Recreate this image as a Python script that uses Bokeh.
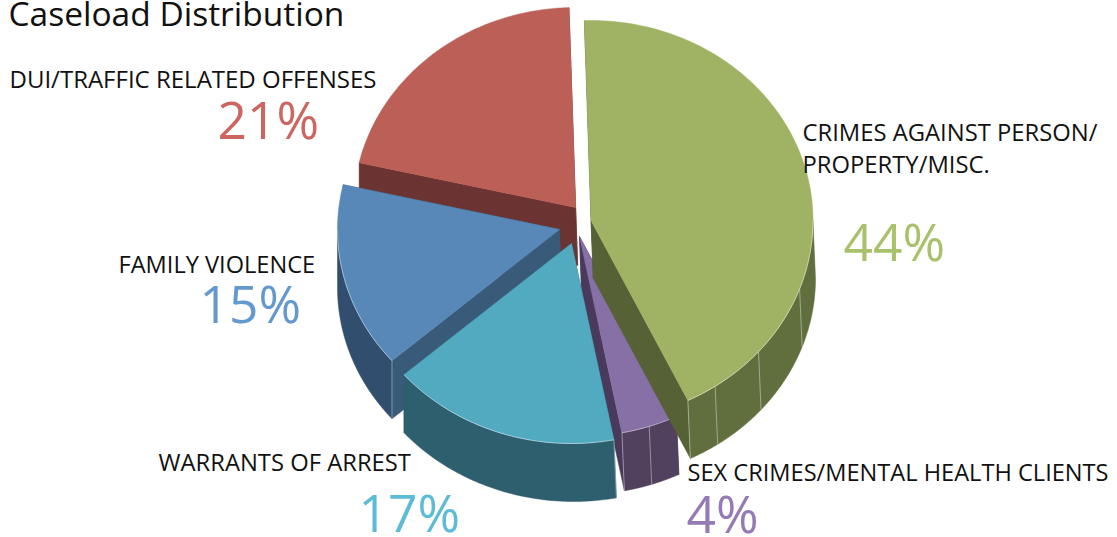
import numpy as np
from bokeh.plotting import figure
from bokeh.models import Range1d
from bokeh.core.properties import value
from bokeh.embed import file_html
from bokeh.resources import INLINE

# ---- data ----
title = "Caseload Distribution"
categories = ["CRIMES AGAINST PERSON/\nPROPERTY/MISC.",
              "SEX CRIMES/MENTAL HEALTH CLIENTS",
              "WARRANTS OF ARREST",
              "FAMILY VIOLENCE",
              "DUI/TRAFFIC RELATED OFFENSES"]
shares = [44, 4, 17, 15, 21]
share_labels = ["44%", "4%", "17%", "15%", "21%"]

# ---- styles ----
top_colors = ["#a0b364", "#8670a6", "#52aac1", "#5788b8", "#bc5f56"]
rim_colors = ["#616f3e", "#51415f", "#2e5f6e", "#314e6e", "#6b3432"]
face_colors = ["#566135", "#493a5b", "#2e5f6e", "#3a5a7a", "#6b3432"]
pct_colors = ["#a9c16b", "#947ab6", "#5cbcd5", "#6399ce", "#cd6660"]
apexes = [(590.5, 220), (579, 236), (571, 243), (559, 229), (575, 207)]
angle_nudges = [(0, -1), (-1, -0.4), (-0.4, -1), (-1, -0.5), (-0.5, 0)]
seams = [[110, 131, 146, None], [161.7, None], [], [], []]
draw_order = [4, 3, 1, 2, 0]
A, B, DEPTH, START = 222.0, 200.0, 58.0, -1.7
FONT = "Open Sans"
BASE = 0.43  # the svg text sits this share of its size below the given y

W, H = 1117, 537
p = figure(width=W, height=H, toolbar_location=None, output_backend="svg",
           x_range=Range1d(0, W), y_range=Range1d(H, 0),
           min_border=0, outline_line_color=None, background_fill_color="white")
p.axis.visible = False
p.grid.visible = False

total = sum(shares)
spans = [s / total * 360.0 for s in shares]
starts = START + np.concatenate([[0], np.cumsum(spans)[:-1]])


def rim(c, t):
    t = np.radians(np.asarray(t, float))
    return c[0] + A * np.sin(t), c[1] - B * np.cos(t)


def down(x, y):
    x = np.asarray(x, float)
    return x + 2.5 * np.clip((x - 405) / 200, 0, 1), np.asarray(y, float) + DEPTH


for i in draw_order:
    c = apexes[i]
    t0, t1 = starts[i] + angle_nudges[i][0], starts[i] + spans[i] + angle_nudges[i][1]
    ts = np.linspace(t0, t1, 120)
    # cut faces
    for t in (t0, t1):
        rx, ry = rim(c, t)
        ex, ey = [c[0], float(rx)], [c[1], float(ry)]
        dx, dy = down(ex, ey)
        p.patch(ex + list(dx[::-1]), ey + list(dy[::-1]), fill_color=face_colors[i],
                line_color=face_colors[i], line_width=0.5)
    # outer wall, only where it faces the viewer
    lo, hi = max(t0, 90), min(t1, 270)
    if hi > lo:
        tv = np.linspace(lo, hi, 100)
        rx, ry = rim(c, tv)
        dx, dy = down(rx, ry)
        p.patch(list(rx) + list(dx[::-1]), list(ry) + list(dy[::-1]),
                fill_color=rim_colors[i], line_color=rim_colors[i], line_width=0.5)
        for t in seams[i][:-1] + [hi if i == 0 or i == 1 else lo] if seams[i] else [lo]:
            sx, sy = rim(c, t)
            qx, qy = down(sx, sy)
            p.line([float(sx), float(qx)], [float(sy), float(qy)],
                   line_color="#ffffff", line_alpha=0.4, line_width=1)
    # top surface
    rx, ry = rim(c, ts)
    p.patch([c[0]] + list(rx), [c[1]] + list(ry), fill_color=top_colors[i],
            line_color=top_colors[i], line_width=0.5)
    if hi > lo:
        rx, ry = rim(c, np.linspace(lo, hi, 100))
        p.line(rx, ry, line_color="#ffffff", line_alpha=0.45, line_width=1)


# ---- texts ----
def put(x, y, s, size, color):
    p.text([x], [y - BASE * size], text=[s], text_font=value(FONT),
           text_font_size=f"{size}px", text_color=color,
           text_baseline="alphabetic", text_align="left")


put(8, 27, title, 33.5, "#111111")
label_pos = [[(802, 142), (802, 174)], [(687, 482)], [(158, 472)], [(118, 274)], [(9, 88)]]
label_sizes = [23.8, 23.6, 23.8, 23.6, 24.0]
pct_pos = [(843, 263), (686, 535), (358, 534), (199, 325), (217, 141)]
for i, name in enumerate(categories):
    for line, xy in zip(name.split("\n"), label_pos[i]):
        put(xy[0], xy[1], line, label_sizes[i], "#111111")
    put(pct_pos[i][0], pct_pos[i][1], share_labels[i], 51.5, pct_colors[i])

open("out.html", "w").write(file_html(p, INLINE))
